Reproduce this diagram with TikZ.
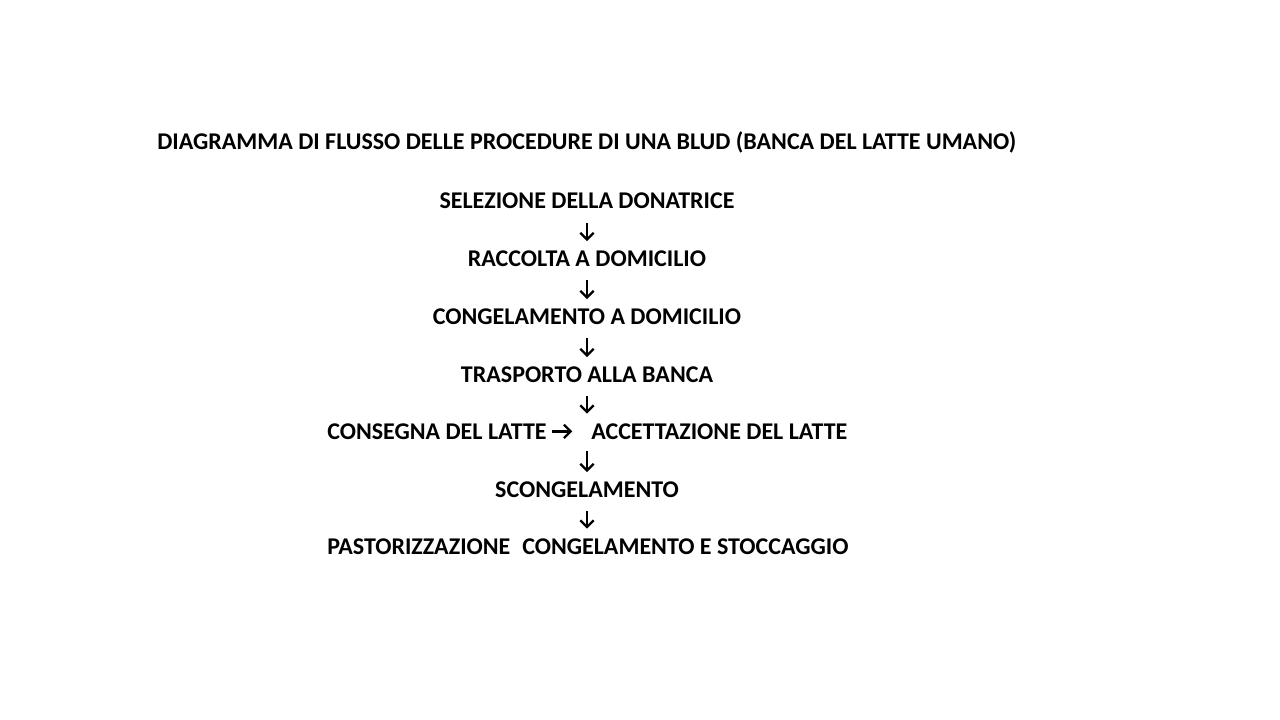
\documentclass[tikz,border=0pt]{standalone}
\usepackage{fontspec}
\setmainfont{Carlito}
\usetikzlibrary{arrows.meta,positioning}

\begin{document}
\begin{tikzpicture}[x=0.75pt,y=-0.75pt,
    step label/.style={inner sep=0pt, text height=11.4pt, text depth=0pt,
        font=\fontsize{18}{22}\selectfont\bfseries},
    flow/.style={line width=1.8pt, -{Straight Barb[length=5pt,width=10pt,line width=1.8pt]},
        shorten <=10pt, shorten >=7pt}]
    % Page
    \useasboundingbox[fill=white] (0,0) rectangle (1280,720);
    % Title
    \node[step label, anchor=base west] (title) at (157,150)
        {DIAGRAMMA DI FLUSSO DELLE PROCEDURE DI UNA BLUD (BANCA DEL LATTE UMANO)};
    % Steps
    \node[step label, anchor=base] (selezione) at (587,209) {SELEZIONE DELLA DONATRICE};
    \node[step label, anchor=base] (raccolta) at (587,266) {RACCOLTA A DOMICILIO};
    \node[step label, anchor=base] (congdom) at (587,324) {CONGELAMENTO A DOMICILIO};
    \node[step label, anchor=base] (trasporto) at (587,382) {TRASPORTO ALLA BANCA};
    \node[step label, anchor=base west] (consegna) at (327,439) {CONSEGNA DEL LATTE};
    \node[step label, anchor=base west] (accettazione) at (591,439) {ACCETTAZIONE DEL LATTE};
    \node[step label, anchor=base] (scong) at (587,497) {SCONGELAMENTO};
    \node[step label, anchor=base west] (pastor) at (327,554) {PASTORIZZAZIONE};
    \node[step label, anchor=base west] (stocc) at (522,554) {CONGELAMENTO E STOCCAGGIO};
    \coordinate (accin) at (587,423);
    \coordinate (accout) at (587,438);
    \coordinate (lastin) at (587,538);
    % Arrows
    \draw[flow] (selezione) -- (raccolta);
    \draw[flow] (raccolta) -- (congdom);
    \draw[flow] (congdom) -- (trasporto);
    \draw[flow] (trasporto.south) -- (accin);
    \draw[flow, shorten <=3.75pt, shorten >=14pt] (consegna) -- (accettazione);
    \draw[flow] (accout) -- (scong.north);
    \draw[flow] (scong.south) -- (lastin);
\end{tikzpicture}
\end{document}
